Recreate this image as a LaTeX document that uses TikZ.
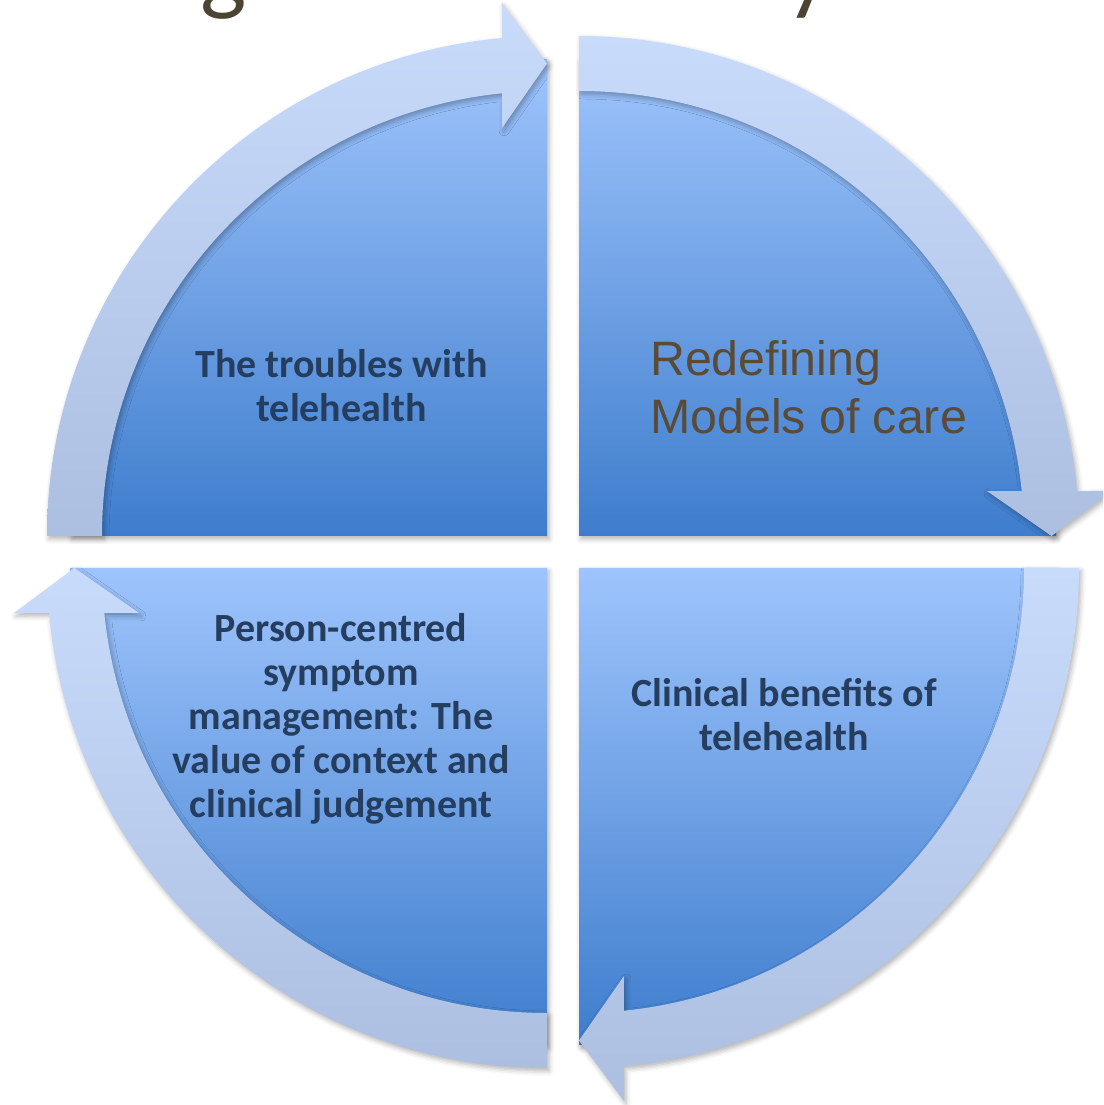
\documentclass[tikz,border=0pt]{standalone}
\usepackage{fontspec}
\setmainfont{Carlito}
\newfontfamily\arialfam{Liberation Sans}
\usetikzlibrary{shadows.blur}

\definecolor{pieTop}{RGB}{158,196,252}
\definecolor{pieBot}{RGB}{62,125,205}
\definecolor{bandTop}{RGB}{201,219,251}
\definecolor{bandBot}{RGB}{172,191,225}
\definecolor{labelNavy}{RGB}{37,62,96}
\definecolor{brownText}{RGB}{89,75,55}
\definecolor{titleBrown}{RGB}{76,68,50}

\tikzset{
  softshadow/.style={blur shadow={shadow xshift=2pt, shadow yshift=-3pt,
      shadow blur radius=5pt, shadow opacity=30}},
  pieshade/.style={top color=pieTop, bottom color=pieBot, softshadow},
  bandshade/.style={top color=bandTop, bottom color=bandBot, softshadow},
  boldlabel/.style={font=\bfseries\fontsize{40}{44}\selectfont, text=labelNavy,
      align=center, inner sep=0pt, anchor=base},
  titlechar/.style={font=\fontsize{98}{110}\selectfont, text=titleBrown,
      inner sep=0pt, anchor=base west}
}

% quarter disc of the cycle, #1 = centre, #2 = start angle
\newcommand\cyclepie[2]{%
  \shade[pieshade] (#1) -- ++(#2:477)
    arc[start angle=#2, end angle={#2+90}, radius=477] -- cycle;}

% curved arrow around a quarter disc, #1 = centre, #2 = rotation
\newcommand\cyclearrow[2]{%
  \begin{scope}[shift={(#1)}]
    \shade[bandshade] ({180+#2}:500)
      arc[start angle={180+#2}, end angle={95.16+#2}, radius=500]
      -- ({94.83+#2}:534.9) -- ({90+#2}:472.5) -- ({96.29+#2}:410.5)
      -- ({95.80+#2}:445)
      arc[start angle={95.80+#2}, end angle={180+#2}, radius=445] -- cycle;
  \end{scope}}

\begin{document}
\begin{tikzpicture}[x=1pt, y=1pt]
  \useasboundingbox (0,0) rectangle (1103,1105);
  \clip (0,0) rectangle (1103,1105);

  \coordinate (cTL) at (547,569);
  \coordinate (cTR) at (579,569);
  \coordinate (cBR) at (579,537);
  \coordinate (cBL) at (547,537);

  % title line running above the cycle
  \node[titlechar] (titleg) at (200,1102) {g};
  \node[titlechar] (titley) at (786,1102) {y};

  % four quarters, each with its arrow
  \cyclepie{cTL}{90}   \cyclearrow{cTL}{0}
  \cyclepie{cTR}{0}    \cyclearrow{cTR}{-90}
  \cyclepie{cBR}{-90}  \cyclearrow{cBR}{-180}
  \cyclepie{cBL}{180}  \cyclearrow{cBL}{90}

  % labels
  \node[boldlabel] (troubles) at (341.5,683.5) {The troubles with\\telehealth};
  \node[font=\arialfam\fontsize{48.3}{58}\selectfont, text=brownText,
        align=left, inner sep=0pt, anchor=base west] (models) at (650,671.5)
        {Redefining\\Models of care};
  \node[boldlabel] (benefits) at (784,354) {Clinical benefits of\\telehealth};
  \node[boldlabel] (person) at (341,287)
        {Person-centred\\symptom\\management: The\\value of context and\\clinical judgement};
\end{tikzpicture}
\end{document}
